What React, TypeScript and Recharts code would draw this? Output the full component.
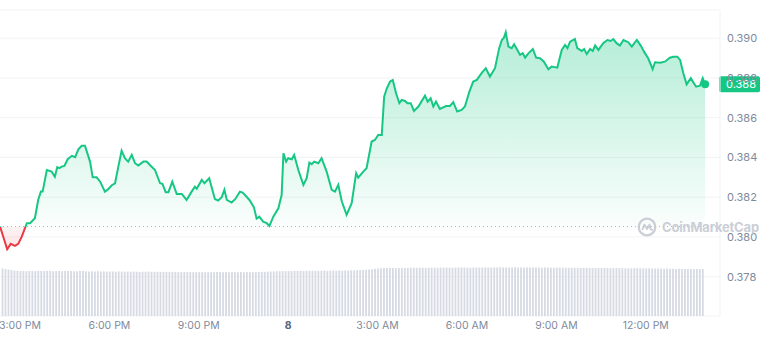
import {
  Area,
  Bar,
  BarChart,
  CartesianGrid,
  ComposedChart,
  ReferenceDot,
  ReferenceLine,
  XAxis,
  YAxis,
} from 'recharts';

// hours after 3:00 PM (day 1) for each traced price point
const priceHours = [
  -0.67, -0.43, -0.31, -0.17, -0.06, 0.06, 0.23, 0.34, 0.5, 0.61,
  0.7, 0.76, 0.9, 1.06, 1.17, 1.25, 1.32, 1.4, 1.49, 1.6,
  1.74, 1.85, 1.96, 2.07, 2.18, 2.35, 2.44, 2.57, 2.69, 2.85,
  2.96, 3.08, 3.19, 3.3, 3.41, 3.52, 3.63, 3.75, 3.86, 3.97,
  4.14, 4.25, 4.36, 4.53, 4.7, 4.78, 4.89, 4.98, 5.11, 5.26,
  5.43, 5.59, 5.76, 5.87, 5.93, 6.1, 6.19, 6.35, 6.54, 6.65,
  6.77, 6.86, 6.94, 7.1, 7.22, 7.38, 7.47, 7.58, 7.7, 7.85,
  7.94, 8.03, 8.16, 8.28, 8.37, 8.5, 8.67, 8.78, 8.84, 8.93,
  9.0, 9.12, 9.2, 9.34, 9.51, 9.62, 9.71, 9.79, 9.87, 10.01,
  10.12, 10.29, 10.46, 10.57, 10.68, 10.8, 10.96, 11.13, 11.28, 11.35,
  11.52, 11.63, 11.8, 11.91, 12.02, 12.14, 12.22, 12.31, 12.42, 12.51,
  12.62, 12.73, 12.81, 12.92, 13.0, 13.11, 13.22, 13.37, 13.59, 13.68,
  13.78, 13.87, 13.96, 14.09, 14.3, 14.43, 14.54, 14.67, 14.82, 14.93,
  15.08, 15.21, 15.33, 15.49, 15.63, 15.77, 15.94, 16.08, 16.17, 16.24,
  16.3, 16.39, 16.5, 16.58, 16.69, 16.78, 16.87, 16.95, 17.06, 17.21,
  17.32, 17.45, 17.58, 17.73, 17.84, 18.03, 18.18, 18.29, 18.37, 18.46,
  18.62, 18.7, 18.85, 18.93, 19.02, 19.13, 19.22, 19.3, 19.41, 19.57,
  19.71, 19.82, 19.91, 20.02, 20.13, 20.25, 20.41, 20.53, 20.7, 20.83,
  20.97, 21.08, 21.23, 21.31, 21.48, 21.64, 21.81, 21.92, 22.06, 22.15,
  22.26, 22.37, 22.51, 22.59, 22.69, 22.82, 22.91, 22.99,
];

const prices = [
  0.38052, 0.37938, 0.37965, 0.37955, 0.37965, 0.38001, 0.38069, 0.38069, 0.38094, 0.38186,
  0.38228, 0.38228, 0.38337, 0.38329, 0.38303, 0.38351, 0.38346, 0.38354, 0.38357, 0.38391,
  0.38408, 0.38401, 0.38441, 0.38459, 0.38459, 0.38379, 0.383, 0.383, 0.38278, 0.38228,
  0.3824, 0.3826, 0.3827, 0.38354, 0.38434, 0.38396, 0.38379, 0.38413, 0.38371, 0.38359,
  0.38379, 0.38379, 0.38362, 0.38337, 0.3827, 0.38267, 0.38225, 0.38225, 0.38278, 0.38216,
  0.38216, 0.38186, 0.38228, 0.38253, 0.38242, 0.38287, 0.3827, 0.38295, 0.38191, 0.38183,
  0.382, 0.38237, 0.38186, 0.38173, 0.3819, 0.38228, 0.38223, 0.38206, 0.38186, 0.38149,
  0.38092, 0.38102, 0.38077, 0.38069, 0.38055, 0.38102, 0.38144, 0.38211, 0.38421, 0.38379,
  0.38396, 0.38391, 0.38413, 0.38337, 0.38262, 0.38295, 0.38374, 0.38366, 0.38379, 0.38371,
  0.38396, 0.38329, 0.38237, 0.38228, 0.38262, 0.38178, 0.38111, 0.3817, 0.38321, 0.38298,
  0.38329, 0.38346, 0.3848, 0.38488, 0.38513, 0.38513, 0.38706, 0.38748, 0.38782, 0.3879,
  0.38723, 0.38673, 0.38689, 0.38684, 0.38673, 0.38673, 0.38634, 0.38656, 0.38711, 0.38681,
  0.38698, 0.38656, 0.38681, 0.38644, 0.38659, 0.38659, 0.38678, 0.38631, 0.38639, 0.38656,
  0.38731, 0.38782, 0.3879, 0.38824, 0.38849, 0.38807, 0.38849, 0.3895, 0.38991, 0.39003,
  0.3903, 0.38958, 0.3895, 0.3897, 0.38941, 0.38916, 0.38925, 0.38902, 0.38924, 0.38946,
  0.38902, 0.38899, 0.38882, 0.38844, 0.38857, 0.38852, 0.38941, 0.38966, 0.3895, 0.38983,
  0.38996, 0.3895, 0.38936, 0.38946, 0.3892, 0.38946, 0.38936, 0.38963, 0.38941, 0.38975,
  0.38991, 0.38986, 0.38996, 0.38975, 0.38963, 0.38991, 0.3898, 0.38958, 0.38991, 0.38963,
  0.38925, 0.38899, 0.38844, 0.38879, 0.38877, 0.38882, 0.38902, 0.38907, 0.38907, 0.38891,
  0.38824, 0.38768, 0.38799, 0.38779, 0.38756, 0.38761, 0.38799, 0.38768,
];

// volume bars every 6 minutes, starting 2:24 PM
const volumeStartHour = -0.6;
const volumeStepHours = 0.1;
const volumes = [
  47.5, 47, 46.5, 46, 45.5, 45.2, 45, 45, 44.8, 45,
  45, 44.8, 45.1, 45, 44.9, 45.2, 45, 44.8, 44.9, 45,
  44.8, 45, 44.9, 45.1, 44.8, 44.7, 44.9, 45, 44.8, 44.6,
  44.7, 44.6, 44.8, 44.5, 44.6, 44.4, 44.5, 44.6, 44.3, 44.5,
  44.4, 44.3, 44.5, 44.2, 44.4, 44.3, 44.1, 44.3, 44.2, 44.4,
  44.2, 44.1, 44.3, 44, 44.2, 44.1, 44, 44.2, 44.1, 43.9,
  44, 44.1, 43.9, 44, 43.8, 44, 43.9, 44.1, 43.8, 43.9,
  43.9, 43.8, 44, 43.9, 43.7, 43.9, 43.8, 44, 43.9, 43.8,
  43.9, 43.8, 43.9, 44, 43.8, 44.1, 44, 44.2, 44.1, 44.3,
  44.5, 44.6, 44.8, 44.7, 44.9, 44.8, 45, 44.9, 45.1, 45,
  45.1, 45, 45.2, 45.1, 45.3, 45.2, 45.1, 45.3, 45.4, 45.2,
  45.3, 45.4, 45.2, 45.5, 45.4, 45.6, 45.5, 45.7, 45.6, 45.8,
  45.9, 46.1, 46.3, 46.5, 46.8, 47.2, 47.5, 47.8, 48, 47.9,
  48, 48.1, 47.9, 48, 48.2, 48.1, 48, 48.2, 48.3, 48.1,
  48.2, 48.3, 48.1, 48.2, 48.4, 48.3, 48.2, 48.4, 48.3, 48.5,
  48.4, 48.3, 48.5, 48.4, 48.6, 48.5, 48.4, 48.3, 48.5, 48.4,
  48.5, 48.4, 48.6, 48.5, 48.4, 48.6, 48.5, 48.7, 48.6, 48.5,
  48.6, 48.5, 48.7, 48.6, 48.5, 48.4, 48.6, 48.5, 48.4, 48.5,
  48.4, 48.3, 48.5, 48.4, 48.3, 48.2, 48.4, 48.3, 48.2, 48.3,
  48.2, 48.1, 48.3, 48.2, 48.1, 48, 48.2, 48.1, 48, 47.9,
  48, 47.9, 48.1, 48, 47.9, 47.8, 48, 47.9, 47.8, 47.7,
  47.8, 47.7, 47.9, 47.8, 47.6, 47.7, 47.5, 47.6, 47.5, 47.4,
  47.5, 47.4, 47.3, 47.4, 47.2, 47.3, 47.1, 47.2, 47.1, 47,
  47.1, 47, 46.9, 47, 46.8, 46.9,
];

const tickHours = [0, 3, 6, 9, 12, 15, 18, 21];
const tickLabels = ['3:00 PM', '6:00 PM', '9:00 PM', '8', '3:00 AM', '6:00 AM', '9:00 AM', '12:00 PM'];
const priceTicks = [0.378, 0.38, 0.382, 0.384, 0.386, 0.388, 0.39];

const GREEN = '#16c784';
const RED = '#ea3943';
const AXIS_TEXT = '#808a9d';
const X_DOMAIN: [number, number] = [-0.671, 23.49];

const openPrice = prices[0];
const lastPrice = prices[prices.length - 1];
const lastHour = priceHours[priceHours.length - 1];
const maxPrice = Math.max(...prices);
const minPrice = Math.min(...prices);
const splitOffset = (maxPrice - openPrice) / (maxPrice - minPrice);

const priceRows = priceHours.map((t, i) => ({ t, price: prices[i] }));
const volumeRows = volumes.map((vol, i) => ({ t: volumeStartHour + i * volumeStepHours, vol }));

const XTick = ({ x, y, payload }: any) => {
  const idx = tickHours.indexOf(payload.value);
  const label = tickLabels[idx] ?? '';
  const isDate = label === '8';
  return (
    <text
      x={x}
      y={y}
      dy="0.71em"
      textAnchor="middle"
      fontSize={10.5}
      fontWeight={isDate ? 700 : 400}
      fill={isDate ? '#58667e' : AXIS_TEXT}
    >
      {label}
    </text>
  );
};

const PriceBadge = (props: any) => {
  const vb = props.viewBox;
  if (!vb) return null;
  const x = vb.x + vb.width - 1;
  return (
    <g>
      <rect x={x} y={vb.y - 8} width={41} height={16} rx={2} fill={GREEN} />
      <text x={x + 7} y={vb.y} dy="0.35em" fontSize={11} fill="#fff">
        {lastPrice.toFixed(3)}
      </text>
    </g>
  );
};

export default function App() {
  return (
    <div
      style={{
        position: 'absolute',
        left: 0,
        top: 0,
        width: 760,
        height: 338,
        background: '#fff',
        fontFamily: 'Inter, "Noto Sans", sans-serif',
      }}
    >
      <ComposedChart width={760} height={338} data={priceRows} margin={{ top: 10, right: 0, bottom: 0, left: 0 }}>
        <defs>
          <linearGradient id="priceStroke" x1="0" y1="0" x2="0" y2="1">
            <stop offset={splitOffset} stopColor={GREEN} />
            <stop offset={splitOffset} stopColor={RED} />
          </linearGradient>
          <linearGradient id="priceFill" x1="0" y1="0" x2="0" y2="1">
            <stop offset={0} stopColor={GREEN} stopOpacity={0.32} />
            <stop offset={splitOffset} stopColor={GREEN} stopOpacity={0.02} />
            <stop offset={splitOffset} stopColor={RED} stopOpacity={0.06} />
            <stop offset={1} stopColor={RED} stopOpacity={0.14} />
          </linearGradient>
        </defs>
        <CartesianGrid vertical={false} stroke="#f1f3f6" />
        <XAxis
          dataKey="t"
          type="number"
          domain={X_DOMAIN}
          ticks={tickHours}
          tick={<XTick />}
          tickLine={false}
          axisLine={false}
          height={22}
          tickSize={0}
          tickMargin={6}
          interval={0}
        />
        <YAxis
          orientation="right"
          domain={[0.37602, 0.39142]}
          ticks={priceTicks}
          allowDataOverflow
          width={40}
          tickSize={0}
          tickMargin={7}
          tickLine={false}
          axisLine={{ stroke: '#eff2f5' }}
          tick={{ fontSize: 11, fill: AXIS_TEXT }}
          tickFormatter={(v: number) => v.toFixed(3)}
        />
        <ReferenceLine y={openPrice} stroke="#aab2c2" strokeDasharray="1 3" strokeWidth={1} />
        <Area
          type="linear"
          dataKey="price"
          baseValue={openPrice}
          stroke="url(#priceStroke)"
          strokeWidth={2}
          fill="url(#priceFill)"
          fillOpacity={1}
          dot={false}
          activeDot={false}
          isAnimationActive={false}
        />
        <ReferenceDot x={lastHour} y={lastPrice} r={4} fill={GREEN} stroke="none" />
        <ReferenceLine y={lastPrice} strokeOpacity={0} label={<PriceBadge />} />
      </ComposedChart>
      <div style={{ position: 'absolute', left: 0, top: 0, pointerEvents: 'none' }}>
        <BarChart width={760} height={338} data={volumeRows} margin={{ top: 10, right: 40, bottom: 22, left: 0 }}>
          <XAxis dataKey="t" type="number" domain={X_DOMAIN} hide />
          <YAxis hide domain={[0, 306]} />
          <Bar dataKey="vol" fill="#d6dae3" barSize={1.8} isAnimationActive={false} />
        </BarChart>
      </div>
      <div
        style={{
          position: 'absolute',
          left: 637,
          top: 217,
          display: 'flex',
          alignItems: 'center',
          gap: 5,
          color: '#c3c7cf',
          fontSize: 13,
          fontWeight: 700,
          letterSpacing: -0.2,
          opacity: 0.85,
          pointerEvents: 'none',
          whiteSpace: 'nowrap',
        }}
      >
        <svg width={20} height={20} viewBox="0 0 21 21">
          <circle cx={10.5} cy={10.5} r={8.7} fill="none" stroke="#c3c7cf" strokeWidth={2.4} />
          <path
            d="M5.5 13.5 L7.8 8 L10.5 12.5 L13.2 8 L14.2 12.5 Q15 14 16.5 13"
            fill="none"
            stroke="#c3c7cf"
            strokeWidth={2}
            strokeLinejoin="round"
          />
        </svg>
        <span>CoinMarketCap</span>
      </div>
    </div>
  );
}
